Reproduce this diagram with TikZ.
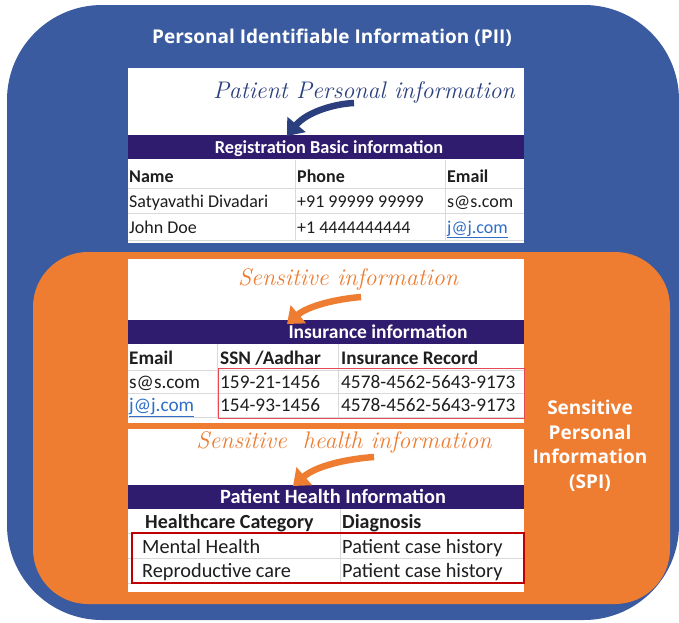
\documentclass[tikz,border=0pt]{standalone}
\usepackage{fontspec}
\setsansfont{Carlito}
\newfontfamily\bannerfont{Open Sans}
\usepackage{tikz}
\usetikzlibrary{arrows.meta,positioning,calc}
\definecolor{piiblue}{HTML}{3A5BA0}
\definecolor{spiorange}{HTML}{EE7D31}
\definecolor{barpurple}{HTML}{2F1C6E}
\definecolor{inkblue}{HTML}{2B3F7E}
\definecolor{inkblack}{HTML}{1E1E1E}
\definecolor{gridgray}{HTML}{D9D9D9}
\definecolor{linkblue}{HTML}{2F6FC8}
\definecolor{softred}{HTML}{E84A55}
\definecolor{darkred}{HTML}{C00000}
\tikzset{
  sheet/.style={fill=white},
  bar/.style={fill=barpurple, minimum width=396pt, minimum height=24pt, inner sep=0pt},
  bartext/.style={anchor=base, inner sep=0pt, text=white,
    font=\sffamily\bfseries\fontsize{#1}{#1}\selectfont},
  bartext/.default=18,
  cell/.style={anchor=base west, inner sep=0pt, text=inkblack,
    font=\sffamily\fontsize{#1}{#1}\selectfont},
  cell/.default=18,
  hcell/.style={cell, font=\sffamily\bfseries\fontsize{#1}{#1}\selectfont},
  hcell/.default=18,
  linkcell/.style={cell=#1, text=linkblue},
  linkcell/.default=18,
  rule/.style={draw=gridgray, line width=0.6pt},
  hand/.style={anchor=base, inner sep=0pt, font=\rmfamily\itshape\fontsize{24}{26}\selectfont},
  swoosh/.style={line width=6.5pt, -{Triangle[length=15pt,width=23pt]}},
  banner/.style={inner sep=0pt, text=white, align=center,
    font=\bannerfont\bfseries\fontsize{19}{24.5}\selectfont},
}

\begin{document}
\begin{tikzpicture}[x=1pt,y=-1pt]
  \useasboundingbox (0,0) rectangle (679,622);
  % the two nested zones
  \fill[piiblue, rounded corners=95pt] (7,5) rectangle (679,620);
  \fill[spiorange, rounded corners=55pt] (33,252) rectangle (670,604);
  \node[banner, anchor=base] (piititle) at (332,43) {Personal Identifiable Information (PII)};
  \node[banner] (spititle) at (590,446) {Sensitive\\Personal\\Information\\(SPI)};

  % top sheet: registration
  \fill[sheet] (128,68) rectangle (524,243);
  \node[bar, anchor=north west] (regbar) at (128,135) {};
  \node[bartext=18.3] (regtext) at (329,153) {Registration Basic information};
  \foreach \y in {188,213,240} \draw[rule] (128,\y) -- (524,\y);
  \foreach \x in {295,445} \draw[rule] (\x,160) -- (\x,240);
  \foreach \t/\x [count=\i] in {Name/129, Phone/297, Email/447}
    \node[hcell] (reghead\i) at (\x,182) {\t};
  \node[cell] (regname1) at (129,207) {Satyavathi Divadari};
  \node[cell] (regphone1) at (297,207) {+91 99999 99999};
  \node[cell] (regmail1) at (447,207) {s@s.com};
  \node[cell] (regname2) at (129,233) {John Doe};
  \node[cell] (regphone2) at (297,233) {+1 4444444444};
  \node[linkcell] (regmail2) at (447,233) {\underline{j@j.com}};
  \node[hand, text=inkblue] (pplabel) at (364,98) {Patient Personal information};
  \coordinate (pptail) at (354,103);
  \coordinate (pptip) at (287,136);
  \draw[swoosh, inkblue] (pptail) .. controls (332,104) and (306,113) .. (pptip);

  % middle sheet: insurance
  \fill[sheet] (128,259) rectangle (524,423);
  \node[bar, anchor=north west] (insbar) at (128,320) {};
  \node[bartext=19.5] (instext) at (378,338) {Insurance information};
  \foreach \y in {370,393,417} \draw[rule] (128,\y) -- (524,\y);
  \foreach \x in {217,338} \draw[rule] (\x,344) -- (\x,417);
  \foreach \t/\x [count=\i] in {Email/129, {SSN /Aadhar}/220, Insurance Record/341}
    \node[hcell=19.2] (inshead\i) at (\x,364) {\t};
  \node[cell=19.3] (insmail1) at (129,388) {s@s.com};
  \node[cell=19.3] (insssn1) at (220,388) {159-21-1456};
  \node[cell=19.3] (insrec1) at (341,388) {4578-4562-5643-9173};
  \node[linkcell=19.3] (insmail2) at (129,411) {\underline{j@j.com}};
  \node[cell=19.3] (insssn2) at (220,411) {154-93-1456};
  \node[cell=19.3] (insrec2) at (341,411) {4578-4562-5643-9173};
  \draw[softred, line width=1pt] (218,368) rectangle (524,418);
  \node[hand, text=spiorange] (sensl) at (348,285) {Sensitive information};
  \coordinate (senstail) at (361,297);
  \coordinate (senstip) at (287,324);
  \draw[swoosh, spiorange] (senstail) .. controls (336,299) and (308,306) .. (senstip);

  % bottom sheet: health
  \fill[sheet] (128,429) rectangle (524,592);
  \node[bar, anchor=north west] (hbar) at (128,485) {};
  \node[bartext=20.3] (htext) at (333,503) {Patient Health Information};
  \foreach \y in {533,558,583} \draw[rule] (128,\y) -- (524,\y);
  \draw[rule] (340,509) -- (340,583);
  \node[hcell=20] (hhead1) at (145,528) {Healthcare Category};
  \node[hcell=20] (hhead2) at (342,528) {Diagnosis};
  \node[cell=20.3] (hcat1) at (142,553) {Mental Health};
  \node[cell=20.3] (hdiag1) at (342,553) {Patient case history};
  \node[cell=20.3] (hcat2) at (142,577) {Reproductive care};
  \node[cell=20.3] (hdiag2) at (342,577) {Patient case history};
  \draw[darkred, line width=2pt] (132,533) rectangle (524,583);
  \node[hand, text=spiorange] (shlabel) at (344,448) {Sensitive\hspace{16pt}health information};
  \coordinate (shtail) at (374,457);
  \coordinate (shtip) at (293,486);
  \draw[swoosh, spiorange] (shtail) .. controls (346,459) and (316,466) .. (shtip);
\end{tikzpicture}
\end{document}
